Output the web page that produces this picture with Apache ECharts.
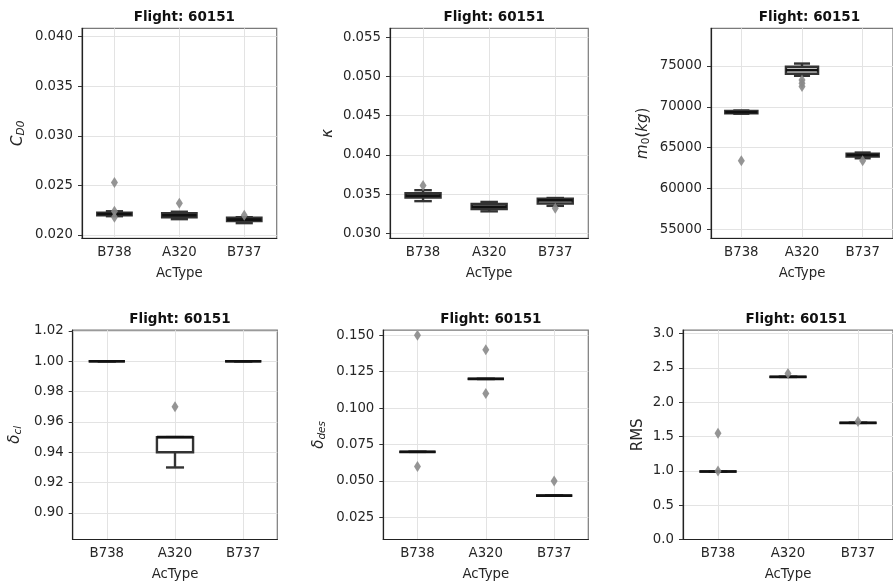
<!DOCTYPE html>
<html>
<head>
<meta charset="utf-8">
<script src="https://cdn.jsdelivr.net/npm/echarts@6/dist/echarts.min.js"></script>
<style>
  html, body { margin: 0; padding: 0; background: #fff; }
  #chart { width: 893px; height: 585px; }
</style>
</head>
<body>
<div id="chart"></div>
<script>
const acTypes = ['B738', 'A320', 'B737'];
const flightTitle = 'Flight: 60151';

// box stats per type: [min, q1, median, q3, max]
const cd0Box = [[0.0219, 0.0220, 0.02212, 0.02225, 0.0224], [0.0216, 0.0218, 0.0220, 0.0222, 0.02235], [0.0212, 0.0214, 0.02155, 0.02175, 0.0218]];
const cd0Out = [['B738', 0.0253], ['B738', 0.0224], ['B738', 0.0218], ['A320', 0.0232], ['B737', 0.0220]];
const cd0Ticks = [0.020, 0.025, 0.030, 0.035, 0.040];

const kappaBox = [[0.0341, 0.03455, 0.0348, 0.0351, 0.0355], [0.0328, 0.0331, 0.0334, 0.03375, 0.0340], [0.0335, 0.0338, 0.0342, 0.0344, 0.0345]];
const kappaOut = [['B738', 0.0361], ['B737', 0.0332]];
const kappaTicks = [0.030, 0.035, 0.040, 0.045, 0.050, 0.055];

const massBox = [[69150, 69200, 69330, 69480, 69550], [73800, 74050, 74500, 74900, 75300], [63700, 63900, 64100, 64250, 64400]];
const massOut = [['B738', 63400], ['A320', 73300], ['A320', 72900], ['A320', 72500], ['B737', 63400]];
const massTicks = [55000, 60000, 65000, 70000, 75000];

const dclBox = [[1, 1, 1, 1, 1], [0.93, 0.94, 0.95, 0.95, 0.95], [1, 1, 1, 1, 1]];
const dclOut = [['A320', 0.97]];
const dclTicks = [0.90, 0.92, 0.94, 0.96, 0.98, 1.00, 1.02];

const ddesBox = [[0.07, 0.07, 0.07, 0.07, 0.07], [0.12, 0.12, 0.12, 0.12, 0.12], [0.04, 0.04, 0.04, 0.04, 0.04]];
const ddesOut = [['B738', 0.15], ['B738', 0.06], ['A320', 0.14], ['A320', 0.11], ['B737', 0.05]];
const ddesTicks = [0.025, 0.050, 0.075, 0.100, 0.125, 0.150];

const rmsBox = [[0.99, 0.99, 0.99, 0.99, 0.99], [2.37, 2.37, 2.37, 2.37, 2.37], [1.70, 1.70, 1.70, 1.70, 1.70]];
const rmsOut = [['B738', 1.55], ['B738', 1.0], ['A320', 2.42], ['B737', 1.72]];
const rmsTicks = [0.0, 0.5, 1.0, 1.5, 2.0, 2.5, 3.0];

const FONT = 'DejaVu Sans';
const TXT = '#262626';

const panels = [
  { box: cd0Box, out: cd0Out, ticks: cd0Ticks, min: 0.01967, max: 0.04085, dec: 3,
    name: '{i|C}{s|D0}', gap: 55, grid: { left: 82, top: 28.3, width: 194.7, height: 210 } },
  { box: kappaBox, out: kappaOut, ticks: kappaTicks, min: 0.02936, max: 0.05615, dec: 3,
    name: '{i|κ}', gap: 54, grid: { left: 390, top: 28.3, width: 198.3, height: 210 } },
  { box: massBox, out: massOut, ticks: massTicks, min: 53898, max: 79617, dec: 0,
    name: '{i|m}{s0|0}{n|(}{i|kg}{n|)}', gap: 59, grid: { left: 711, top: 28.3, width: 187, height: 210 } },
  { box: dclBox, out: dclOut, ticks: dclTicks, min: 0.8825, max: 1.0205, dec: 2,
    name: '{i|δ}{s|cl}', gap: 49, grid: { left: 72.7, top: 330.2, width: 204.6, height: 209.3 } },
  { box: ddesBox, out: ddesOut, ticks: ddesTicks, min: 0.0099, max: 0.1534, dec: 3,
    name: '{i|δ}{s|des}', gap: 56, grid: { left: 383.3, top: 330.2, width: 205, height: 209.3 } },
  { box: rmsBox, out: rmsOut, ticks: rmsTicks, min: 0, max: 3.05, dec: 1,
    name: 'RMS', gap: 37, grid: { left: 683, top: 330.2, width: 216.5, height: 209.3 } }
];

const nameRich = {
  i: { fontFamily: FONT, fontStyle: 'italic', fontSize: 15, color: TXT },
  n: { fontFamily: FONT, fontSize: 15, color: TXT },
  s: { fontFamily: FONT, fontStyle: 'italic', fontSize: 10.5, color: TXT, verticalAlign: 'bottom', padding: [6, 0, 0, 0] },
  s0: { fontFamily: FONT, fontSize: 10.5, color: TXT, verticalAlign: 'bottom', padding: [6, 0, 0, 0] }
};

function renderBox(params, api) {
  const x = api.value(0);
  const lo = api.coord([x, api.value(1)]);
  const q1 = api.coord([x, api.value(2)]);
  const med = api.coord([x, api.value(3)]);
  const q3 = api.coord([x, api.value(4)]);
  const hi = api.coord([x, api.value(5)]);
  const band = api.size([1, 0])[0];
  const half = band * 0.265;
  const cap = half / 2;
  const cx = lo[0];
  const edge = { stroke: '#333', lineWidth: 2.4, fill: null };
  return {
    type: 'group',
    children: [
      { type: 'line', shape: { x1: cx, y1: q1[1], x2: cx, y2: lo[1] }, style: edge },
      { type: 'line', shape: { x1: cx, y1: q3[1], x2: cx, y2: hi[1] }, style: edge },
      { type: 'line', shape: { x1: cx - cap, y1: lo[1], x2: cx + cap, y2: lo[1] }, style: edge },
      { type: 'line', shape: { x1: cx - cap, y1: hi[1], x2: cx + cap, y2: hi[1] }, style: edge },
      { type: 'rect', shape: { x: cx - half, y: q3[1], width: 2 * half, height: q1[1] - q3[1] },
        style: { fill: '#fff', stroke: '#333', lineWidth: 2.4 } },
      { type: 'line', shape: { x1: cx - half, y1: med[1], x2: cx + half, y2: med[1] },
        style: { stroke: '#111', lineWidth: 2.6 } }
    ]
  };
}

const option = {
  animation: false,
  backgroundColor: '#fff',
  title: [], grid: [], xAxis: [], yAxis: [], series: []
};

panels.forEach((p, k) => {
  const g = p.grid;
  option.grid.push({ left: g.left, top: g.top, width: g.width, height: g.height,
    show: true, borderColor: '#7a7a7a', borderWidth: 1.2, backgroundColor: '#fff' });
  option.title.push({
    text: flightTitle, left: g.left + g.width / 2, top: g.top - 23, textAlign: 'center',
    textStyle: { fontFamily: FONT, fontSize: 13.5, fontWeight: 'bold', color: '#111' }
  });
  option.xAxis.push({
    type: 'category', gridIndex: k, data: acTypes,
    name: 'AcType', nameLocation: 'middle', nameGap: 29,
    nameTextStyle: { fontFamily: FONT, fontSize: 13.3, color: TXT },
    axisLine: { lineStyle: { color: '#222', width: 1.2 } },
    axisTick: { alignWithLabel: true, length: 4, lineStyle: { color: '#333' } },
    axisLabel: { fontFamily: FONT, fontSize: 13.3, color: TXT, margin: 8 },
    splitLine: { show: true, alignWithLabel: true, lineStyle: { color: '#e3e3e3', width: 1 } }
  });
  option.yAxis.push({
    type: 'value', gridIndex: k, min: p.min, max: p.max,
    name: p.name, nameLocation: 'middle', nameGap: p.gap, nameRotate: 90,
    nameTextStyle: { fontFamily: FONT, fontSize: 15, color: TXT, rich: nameRich },
    axisLine: { show: true, lineStyle: { color: '#222', width: 1.2 } },
    axisTick: { show: true, length: 4, customValues: p.ticks, lineStyle: { color: '#333' } },
    axisLabel: { fontFamily: FONT, fontSize: 13.3, color: TXT, margin: 9,
      customValues: p.ticks, formatter: v => Number(v).toFixed(p.dec) },
    splitLine: { show: true, lineStyle: { color: '#e3e3e3', width: 1 } }
  });
  option.series.push({
    type: 'custom', xAxisIndex: k, yAxisIndex: k,
    renderItem: renderBox,
    encode: { x: 0, y: [1, 2, 3, 4, 5] },
    data: p.box.map((b, i) => [i].concat(b)),
    z: 2
  });
  option.series.push({
    type: 'scatter', xAxisIndex: k, yAxisIndex: k,
    symbol: 'diamond', symbolSize: [7, 11],
    itemStyle: { color: '#8a8a8a', opacity: 0.9 },
    data: p.out, z: 3
  });
});

const chart = echarts.init(document.getElementById('chart'), null, { renderer: 'canvas' });
chart.setOption(option);
</script>
</body>
</html>
